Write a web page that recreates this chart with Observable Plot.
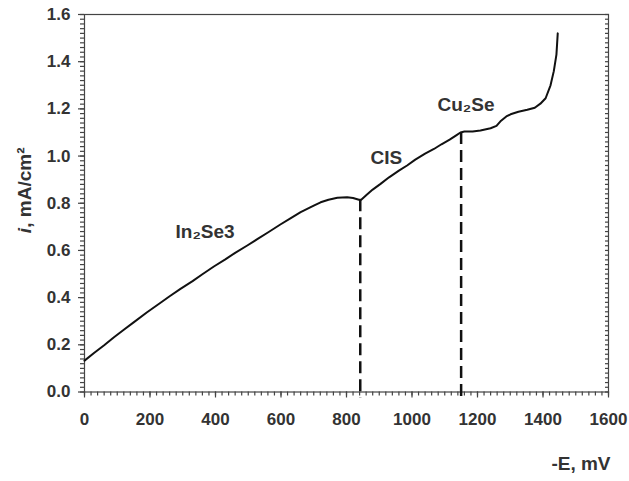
<!DOCTYPE html>
<html>
<head>
<meta charset="utf-8">
<script src="https://cdn.jsdelivr.net/npm/d3@7"></script>
<script src="https://cdn.jsdelivr.net/npm/@observablehq/plot@0.6"></script>
<style>
  html, body { margin: 0; padding: 0; background: #fff; }
</style>
</head>
<body>
<div id="chart"></div>
<script>
// Potential -E (mV) and current density i (mA/cm2)
const E = [0, 30, 60, 90, 120, 150, 190, 230, 260, 293, 330, 360, 395, 430, 460, 497, 530, 560, 598, 630, 660, 680, 700, 721, 745, 772, 802, 820, 838, 845, 860, 880, 904, 930, 960, 985, 1010, 1040, 1067, 1090, 1115, 1135, 1148, 1160, 1185, 1209, 1240, 1258, 1272, 1288, 1301, 1325, 1352, 1375, 1392, 1408, 1423, 1433, 1441, 1445];
const I = [0.133, 0.166, 0.198, 0.232, 0.264, 0.295, 0.337, 0.376, 0.406, 0.437, 0.470, 0.499, 0.532, 0.562, 0.590, 0.621, 0.650, 0.676, 0.710, 0.737, 0.762, 0.776, 0.790, 0.804, 0.815, 0.823, 0.825, 0.822, 0.815, 0.815, 0.834, 0.858, 0.882, 0.910, 0.938, 0.960, 0.985, 1.010, 1.030, 1.050, 1.070, 1.088, 1.100, 1.104, 1.104, 1.108, 1.118, 1.128, 1.150, 1.168, 1.177, 1.188, 1.196, 1.205, 1.222, 1.245, 1.300, 1.360, 1.430, 1.520];

// Phase boundaries (dashed lines)
const boundaryE = [842, 1150];
const boundaryI = [0.815, 1.100];

// Phase annotations
const phaseNames = ["In₂Se3", "CIS", "Cu₂Se"];
const phaseE = [278, 873, 1078];
const phaseI = [0.652, 0.967, 1.193];

// Ticks
const xMajor = [0, 200, 400, 600, 800, 1000, 1200, 1400, 1600];
const xMinor = d3.range(0, 1601, 20);
const yMajor = [0, 0.2, 0.4, 0.6, 0.8, 1.0, 1.2, 1.4, 1.6];
const yMinor = d3.range(0, 81, 1).map(k => +(k * 0.02).toFixed(2));

const curve = E.map((e, k) => ({E: e, i: I[k]}));
const bounds = boundaryE.map((e, k) => ({E: e, top: boundaryI[k], bottom: -0.025}));
const phases = phaseNames.map((n, k) => ({name: n, E: phaseE[k], i: phaseI[k]}));

const axisColor = "#444";
const textColor = "#333";

const chart = Plot.plot({
  width: 629,
  height: 481,
  marginLeft: 84,
  marginRight: 21,
  marginTop: 14,
  marginBottom: 89.5,
  x: {domain: [0, 1600], label: null},
  y: {domain: [0, 1.6], label: null},
  style: {
    fontFamily: "'Liberation Sans', Arial, sans-serif",
    fontWeight: "bold",
    fontSize: "17px",
    color: textColor,
    background: "#fff"
  },
  marks: [
    Plot.frame({stroke: axisColor, strokeWidth: 1.2}),
    Plot.axisX({ticks: xMinor, tickSize: 4, fill: "none", stroke: axisColor, strokeWidth: 1.2, label: null}),
    Plot.axisX({ticks: xMajor, tickSize: 6, tickPadding: 15, tickFormat: d => String(d), stroke: axisColor, strokeWidth: 1.2, fill: textColor, label: null}),
    Plot.axisY({ticks: yMinor, tickSize: 4, fill: "none", stroke: axisColor, strokeWidth: 1.2, label: null}),
    Plot.axisY({ticks: yMajor, tickSize: 6, tickPadding: 8, tickFormat: d3.format(".1f"), stroke: axisColor, strokeWidth: 1.2, fill: textColor, label: null}),
    Plot.axisY({ticks: yMinor, anchor: "right", tickSize: -4, fill: "none", stroke: axisColor, strokeWidth: 1.2, label: null}),
    Plot.ruleX(bounds, {x: "E", y1: "top", y2: "bottom", stroke: "#111", strokeWidth: 2.5, strokeDasharray: "12,6", clip: false}),
    Plot.line(curve, {x: "E", y: "i", stroke: "#111", strokeWidth: 2}),
    Plot.text(phases, {x: "E", y: "i", text: "name", textAnchor: "start", lineAnchor: "bottom", fontSize: 19, fill: textColor}),
    Plot.text([0], {frameAnchor: "left", text: () => "i", rotate: -90, textAnchor: "start", fontStyle: "italic", dx: -60, dy: 30, fontSize: 19, fill: textColor}),
    Plot.text([0], {frameAnchor: "left", text: () => ", mA/cm²", rotate: -90, textAnchor: "start", dx: -60, dy: 24.5, fontSize: 19, fill: textColor}),
    Plot.text([0], {frameAnchor: "bottom-right", text: () => "-E, mV", textAnchor: "end", dx: 2, dy: 78, fontSize: 19, fill: textColor})
  ]
});

document.getElementById("chart").appendChild(chart);
</script>
</body>
</html>
